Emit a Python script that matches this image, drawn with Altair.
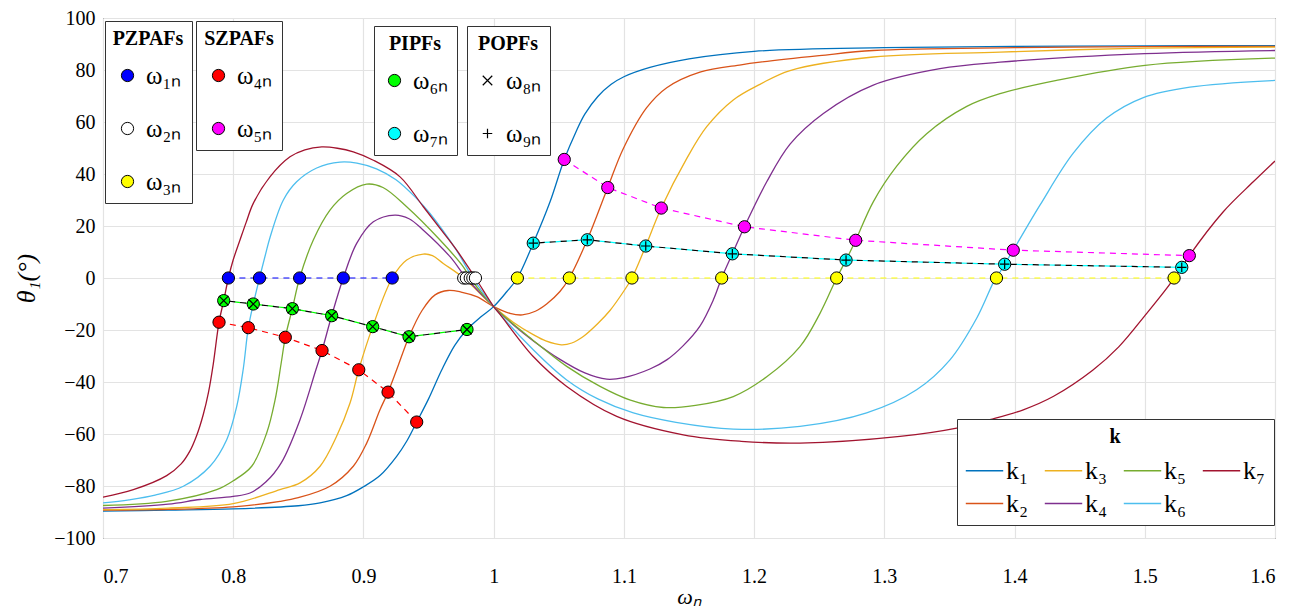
import altair as alt
import pandas as pd

FONT = "Liberation Serif, Times New Roman, serif"

# ---------------- phase curves ----------------
k1_x = [0.70, 0.75, 0.80, 0.85, 0.8667, 0.8871, 0.90, 0.9127, 0.9255, 0.9332, 0.9409, 0.95, 0.96, 0.97, 0.9795,
        0.99, 1.00, 1.01, 1.0182, 1.0304, 1.0433, 1.0542, 1.063, 1.07, 1.08, 1.09, 1.10, 1.12, 1.15, 1.20, 1.30,
        1.40, 1.50, 1.60]
k1_y = [-89.7, -89.3, -88.8, -87.6, -86.5, -83.7, -80.3, -76.0, -68.6, -62.8, -55.4, -46.5, -35.5, -26.0, -19.8,
        -15.0, -11.0, -5.3, 0.0, 13.4, 29.3, 45.6, 56.0, 63.0, 69.8, 74.4, 77.4, 81.0, 84.3, 87.2, 88.6,
        89.1, 89.3, 89.4]

k2_x = [0.70, 0.75, 0.80, 0.8359, 0.85, 0.8743, 0.8922, 0.9025, 0.9127, 0.9189, 0.9255, 0.935, 0.945, 0.955, 0.965,
        0.975, 0.987, 1.00, 1.0125, 1.022, 1.032, 1.0407, 1.0509, 1.0581, 1.0719, 1.0876, 1.0996, 1.1175, 1.1329,
        1.1584, 1.19, 1.2045, 1.25, 1.2915, 1.40, 1.50, 1.60]
k2_y = [-89.3, -89.0, -88.0, -85.9, -84.5, -80.1, -72.4, -63.5, -50.7, -43.9, -35.3, -22.6, -12.5, -6.5, -4.8,
        -5.4, -7.2, -11.0, -13.6, -14.2, -12.8, -10.0, -5.2, 0.0, 14.7, 34.8, 49.8, 65.5, 73.2,
        79.2, 82.0, 83.0, 85.5, 87.5, 88.6, 89.0, 89.1]

k3_x = [0.70, 0.75, 0.80, 0.8359, 0.8513, 0.8667, 0.8794, 0.8897, 0.8964, 0.9071, 0.9221, 0.9332, 0.946, 0.953,
        0.9613, 0.977, 1.00, 1.015, 1.0304, 1.04, 1.052, 1.06, 1.0688, 1.08, 1.0893, 1.10, 1.1062, 1.1168, 1.1287,
        1.1482, 1.1636, 1.184, 1.2045, 1.2276, 1.2915, 1.3888, 1.50, 1.60]
k3_y = [-89.1, -88.5, -86.8, -81.4, -78.8, -72.4, -60.9, -48.1, -35.3, -18.7, 0.0, 6.9, 9.2, 8.6,
        5.6, 0.0, -11.0, -17.0, -21.8, -24.2, -25.7, -25.0, -22.5, -17.5, -12.5, -5.0, 0.0, 12.3, 26.9,
        45.9, 58.2, 68.5, 74.5, 79.8, 85.0, 86.9, 88.4, 88.8]

k4_x = [0.70, 0.75, 0.7745, 0.80, 0.8129, 0.825, 0.837, 0.8513, 0.8635, 0.8682, 0.8756, 0.8845, 0.8948, 0.9076,
        0.9242, 0.935, 0.946, 0.9665, 0.979, 1.00, 1.015, 1.03, 1.05, 1.07, 1.0868, 1.10, 1.12, 1.1329, 1.1456,
        1.1584, 1.1687, 1.1751, 1.1833, 1.1926, 1.2097, 1.2276, 1.2532, 1.2915, 1.3427, 1.3888, 1.50, 1.60]
k4_y = [-88.5, -87.0, -85.2, -84.0, -82.7, -78.5, -71.0, -54.5, -35.3, -27.9, -14.5, 0.0, 13.3, 21.6,
        24.2, 22.8, 18.4, 8.2, 0.0, -11.0, -18.0, -24.0, -31.0, -36.5, -38.9, -38.3, -35.0, -31.5, -26.0,
        -18.5, -8.4, 0.0, 9.3, 19.7, 37.0, 51.5, 63.3, 74.2, 80.5, 83.0, 86.3, 87.5]

k5_x = [0.70, 0.7489, 0.7873, 0.80, 0.8142, 0.8257, 0.8321, 0.8369, 0.84, 0.8454, 0.851, 0.8615, 0.8743, 0.8871,
        0.9025, 0.915, 0.9332, 0.9588, 0.9767, 0.982, 1.00, 1.0304, 1.0561, 1.0817, 1.105, 1.1303, 1.155, 1.184,
        1.2097, 1.2352, 1.2506, 1.2634, 1.2706, 1.278, 1.2915, 1.3095, 1.3325, 1.3633, 1.3888, 1.4323, 1.5002, 1.60]
k5_y = [-87.5, -85.9, -81.4, -78.0, -72.4, -59.6, -47.0, -32.5, -22.8, -11.8, 0.0, 14.6, 26.1, 32.5,
        36.1, 34.8, 27.4, 14.6, 4.3, 0.0, -11.0, -24.0, -34.0, -41.7, -47.0, -49.8, -49.0, -45.6,
        -38.0, -26.4, -13.6, 0.0, 6.9, 14.5, 29.3, 43.0, 55.5, 66.0, 70.9, 76.0, 81.8, 84.6]

k6_x = [0.70, 0.72, 0.74, 0.7617, 0.7822, 0.795, 0.8027, 0.8077, 0.8116, 0.8154, 0.8202, 0.825, 0.8282, 0.8385,
        0.8487, 0.8641, 0.882, 0.895, 0.91, 0.925, 0.94, 0.9511, 0.9716, 0.984, 1.00, 1.0304, 1.0561, 1.08,
        1.1073, 1.14, 1.184, 1.2352, 1.2864, 1.3248, 1.3504, 1.3709, 1.3837, 1.3861, 1.3924, 1.399, 1.4195,
        1.4451, 1.4707, 1.4989, 1.5347, 1.60]
k6_y = [-86.5, -85.3, -83.5, -80.1, -72.4, -62.2, -49.4, -35.0, -19.1, -10.0, 0.0, 9.5, 15.5, 30.0,
        37.0, 42.3, 44.6, 44.2, 42.0, 37.8, 31.0, 24.8, 10.5, 0.0, -11.0, -27.6, -39.2, -46.5,
        -51.9, -55.5, -58.1, -57.1, -51.9, -43.0, -31.5, -15.5, -1.8, 0.0, 5.3, 10.7, 28.0,
        48.0, 61.5, 69.4, 73.4, 76.0]

k7_x = [0.70, 0.7233, 0.7489, 0.76, 0.7668, 0.772, 0.777, 0.781, 0.7847, 0.7891, 0.7927, 0.7963, 0.80, 0.8052,
        0.81, 0.8154, 0.8282, 0.8436, 0.855, 0.868, 0.88, 0.8922, 0.9076, 0.9281, 0.946, 0.96, 0.9716, 0.986,
        1.00, 1.0049, 1.0304, 1.0561, 1.0945, 1.1456, 1.19, 1.2352, 1.312, 1.3556, 1.3811, 1.4067, 1.43, 1.46,
        1.48, 1.5015, 1.5168, 1.5225, 1.5284, 1.5342, 1.5603, 1.5833, 1.60]
k7_y = [-84.3, -81.4, -76.0, -71.5, -66.5, -60.5, -52.5, -44.0, -33.0, -17.0, -8.7, 0.0, 7.0, 14.6,
        21.5, 28.7, 38.9, 46.6, 49.3, 50.4, 49.9, 48.5, 45.3, 38.9, 27.4, 18.3, 10.7, 0.0,
        -11.0, -14.0, -30.2, -41.7, -53.2, -60.3, -62.8, -63.5, -60.9, -57.7, -54.5, -50.7, -45.5, -35.5,
        -26.5, -13.6, -4.0, 0.0, 4.1, 8.6, 25.5, 37.0, 45.0]

k_names = ["k\u2081", "k\u2082", "k\u2083", "k\u2084", "k\u2085", "k\u2086", "k\u2087"]
k_colors = ["#0072BD", "#D95319", "#EDB120", "#7E2F8E", "#77AC30", "#4DBEEE", "#A2142F"]
k_xs = [k1_x, k2_x, k3_x, k4_x, k5_x, k6_x, k7_x]
k_ys = [k1_y, k2_y, k3_y, k4_y, k5_y, k6_y, k7_y]

# ---------------- marked frequencies ----------------
w1_x = [0.7963, 0.8202, 0.851, 0.8845, 0.9221]
w1_y = [0, 0, 0, 0, 0]
w2_x = [0.977, 0.979, 0.982, 0.984, 0.986]
w2_y = [0, 0, 0, 0, 0]
w3_x = [1.0182, 1.0581, 1.1062, 1.1751, 1.2634, 1.3861, 1.5225]
w3_y = [0, 0, 0, 0, 0, 0, 0]
w4_x = [0.7891, 0.8116, 0.84, 0.8682, 0.8964, 0.9189, 0.9409]
w4_y = [-17.0, -19.1, -22.8, -27.9, -35.3, -43.9, -55.4]
w5_x = [1.0542, 1.0876, 1.1287, 1.1926, 1.278, 1.399, 1.5342]
w5_y = [45.6, 34.8, 26.9, 19.7, 14.5, 10.7, 8.6]
w6_x = [0.7927, 0.8154, 0.8454, 0.8756, 0.9071, 0.935, 0.9795]
w6_y = [-8.7, -10.0, -11.8, -14.5, -18.7, -22.6, -19.8]
w7_x = [1.0304, 1.0719, 1.1168, 1.1833, 1.2706, 1.3924, 1.5284]
w7_y = [13.4, 14.7, 12.3, 9.3, 6.9, 5.3, 4.1]
w8_x = [0.7927, 0.8154, 0.8454, 0.8756, 0.9071, 0.935, 0.9795]
w8_y = [-8.7, -10.0, -11.8, -14.5, -18.7, -22.6, -19.8]
w9_x = [1.0304, 1.0719, 1.1168, 1.1833, 1.2706, 1.3924, 1.5284]
w9_y = [13.4, 14.7, 12.3, 9.3, 6.9, 5.3, 4.1]

w_names = ["\u03c9\u2081\u2099", "\u03c9\u2082\u2099", "\u03c9\u2083\u2099", "\u03c9\u2084\u2099",
           "\u03c9\u2085\u2099", "\u03c9\u2086\u2099", "\u03c9\u2087\u2099", "\u03c9\u2088\u2099",
           "\u03c9\u2089\u2099"]
w_fill = ["#0000FF", "#FFFFFF", "#FFFF00", "#FF0000", "#FF00FF", "#00FF00", "#00FFFF"]
w_line = ["#0000FF", "#000000", "#FFFF00", "#FF0000", "#FF00FF", "#00FF00", "#00FFFF"]

x_ticks = [0.7, 0.8, 0.9, 1.0, 1.1, 1.2, 1.3, 1.4, 1.5, 1.6]
y_ticks = [-100, -80, -60, -40, -20, 0, 20, 40, 60, 80, 100]


def frame(names, xs, ys):
    rows = []
    for n, xx, yy in zip(names, xs, ys):
        for a, b in zip(xx, yy):
            rows.append({"w": a, "theta": b, "series": n})
    return pd.DataFrame(rows)


k_df = frame(k_names, k_xs, k_ys)
w_xs = [w1_x, w2_x, w3_x, w4_x, w5_x, w6_x, w7_x, w8_x, w9_x]
w_ys = [w1_y, w2_y, w3_y, w4_y, w5_y, w6_y, w7_y, w8_y, w9_y]
w_df = frame(w_names, w_xs, w_ys)

X = alt.X("w:Q", scale=alt.Scale(domain=[0.7, 1.6], nice=False, zero=False),
          axis=alt.Axis(values=x_ticks, format="~g", title="\u03c9\u2099",
                        labelFont=FONT, titleFont=FONT, labelPadding=28, titlePadding=0,
                        titleFontSize=22))
Y = alt.Y("theta:Q", scale=alt.Scale(domain=[-100, 100], nice=False),
          axis=alt.Axis(values=y_ticks, title="\u03b8\u2081(\u00b0)", labelFont=FONT, titleFont=FONT,
                        labelPadding=8, titlePadding=14, titleFontSize=26))


def box_legend(title, lx, ly, **kw):
    base = dict(title=title, orient="none", legendX=lx, legendY=ly,
                strokeColor="#333333", fillColor="white", padding=8,
                titleFont=FONT, titleFontSize=20, titleFontWeight="bold", titleColor="black",
                titleAnchor="middle", titlePadding=14,
                labelFont=FONT, labelFontSize=25, labelColor="black", labelOffset=6,
                rowPadding=27)
    base.update(kw)
    return alt.Legend(**base)


# k curves
curves = alt.Chart(k_df).mark_line(strokeWidth=1.3, interpolate="catmull-rom", clip=True).encode(
    x=X, y=Y, detail="series:N",
    color=alt.Color("series:N", scale=alt.Scale(domain=k_names, range=k_colors),
                    legend=box_legend("k", 854, 401, columns=4, symbolType="stroke", symbolSize=1400,
                                      symbolStrokeWidth=1.5, rowPadding=0, columnPadding=12,
                                      labelOffset=2, titlePadding=4, labelFontSize=26)),
)

# dashed connecting lines of the marked frequencies
lines_df = w_df[w_df.series.isin(w_names[:7])]
w_lines = alt.Chart(lines_df).mark_line(strokeWidth=1.2, strokeDash=[6, 5]).encode(
    x=X, y=Y, detail="series:N",
    stroke=alt.Stroke("series:N", scale=alt.Scale(domain=w_names[:7], range=w_line), legend=None),
)
black_df = w_df[w_df.series.isin(w_names[7:])]
w_black = alt.Chart(black_df).mark_line(strokeWidth=1.2, strokeDash=[6, 5], strokeDashOffset=5.5,
                                        color="black").encode(x=X, y=Y, detail="series:N")


def circles(names, title, lx, ly):
    d = w_df[w_df.series.isin(names)]
    idx = [w_names.index(n) for n in names]
    return alt.Chart(d).mark_point(filled=True, shape="circle", size=150, stroke="black",
                                   strokeWidth=1, opacity=1).encode(
        x=X, y=Y,
        fill=alt.Fill("series:N", scale=alt.Scale(domain=names, range=[w_fill[i] for i in idx]),
                      legend=box_legend(title, lx, ly, symbolSize=150, symbolStrokeColor="black",
                                        symbolStrokeWidth=1, symbolType="circle")),
    )


pz = circles(w_names[0:3], "PZPAFs", 2, 3)
sz = circles(w_names[3:5], "SZPAFs", 93, 3)
pi = circles(w_names[5:7], "PIPFs", 271, 8)

x_path = "M-1,-1L1,1M-1,1L1,-1"
plus_path = "M-1,0L1,0M0,-1L0,1"
po = alt.Chart(black_df).mark_point(filled=False, size=90, color="black", strokeWidth=1.2, opacity=1).encode(
    x=X, y=Y,
    shape=alt.Shape("series:N", scale=alt.Scale(domain=w_names[7:], range=[x_path, plus_path]),
                    legend=box_legend("POPFs", 364, 8, symbolSize=90, symbolStrokeColor="black",
                                      symbolStrokeWidth=1.2)),
)

chart = alt.layer(curves, w_lines, w_black, pz, sz, pi, po).resolve_scale(
    color="independent", fill="independent", stroke="independent", shape="independent"
).properties(
    width=1172, height=520,
    autosize=alt.AutoSizeParams(type="none"),
    padding={"left": 95, "top": 10, "right": 10, "bottom": 72},
).configure(
    font=FONT,
    style={"guide-label": {"font": FONT}, "guide-title": {"font": FONT}},
).configure_view(stroke="black", strokeWidth=1).configure_axis(
    labelFont=FONT, labelFontSize=20, labelColor="black",
    titleFont=FONT, titleColor="black", titleFontStyle="italic", titleFontWeight="normal",
    gridColor="#e3e3e3", gridWidth=1.2, domain=False, ticks=False,
).configure_legend(labelFont=FONT, titleFont=FONT)

chart.save("out.html", embed_options={"renderer": "svg", "actions": False})
